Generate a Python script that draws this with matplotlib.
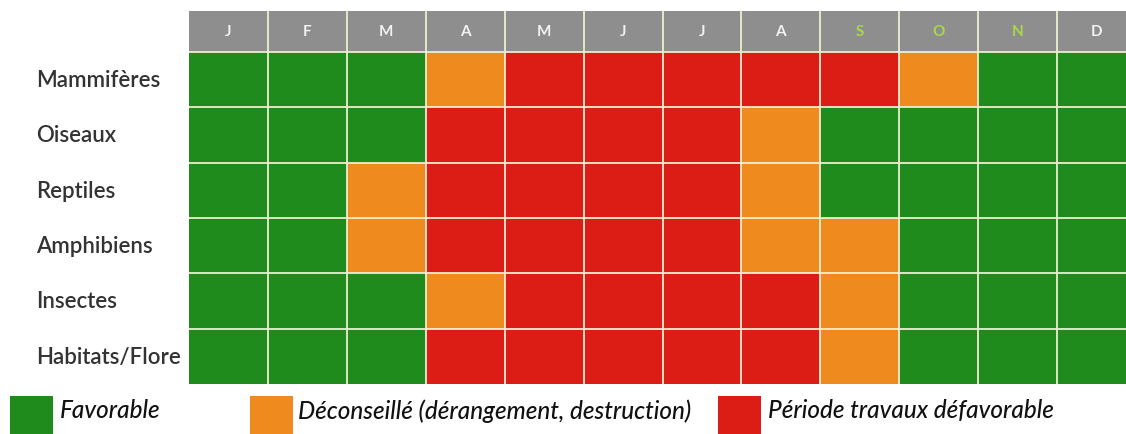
import matplotlib
matplotlib.use("Agg")
import matplotlib.pyplot as plt
import numpy as np
from matplotlib.colors import ListedColormap
from matplotlib.patches import Rectangle
from matplotlib.transforms import blended_transform_factory

# Données
mois = ["J", "F", "M", "A", "M", "J", "J", "A", "S", "O", "N", "D"]
mois_couleurs = ["#f2f2f2"] * 8 + ["#a8d84a", "#a8d84a", "#a8d84a", "#f2f2f2"]
groupes = ["Mammifères", "Oiseaux", "Reptiles", "Amphibiens", "Insectes", "Habitats/Flore"]
# 0 = favorable, 1 = déconseillé, 2 = défavorable
mammiferes = [0, 0, 0, 1, 2, 2, 2, 2, 2, 1, 0, 0]
oiseaux = [0, 0, 0, 2, 2, 2, 2, 1, 0, 0, 0, 0]
reptiles = [0, 0, 1, 2, 2, 2, 2, 1, 0, 0, 0, 0]
amphibiens = [0, 0, 1, 2, 2, 2, 2, 1, 1, 0, 0, 0]
insectes = [0, 0, 0, 1, 2, 2, 2, 2, 1, 0, 0, 0]
habitats_flore = [0, 0, 0, 2, 2, 2, 2, 2, 1, 0, 0, 0]
legende = ["Favorable", "Déconseillé (dérangement, destruction)", "Période travaux défavorable"]

vert, orange, rouge = "#1f8b1c", "#ee8a1e", "#dc1d15"
couleurs = [vert, orange, rouge]

W, H = 1126, 435
fig = plt.figure(figsize=(W / 100, H / 100), dpi=100)

# axes: grille de x=189 à 1136 px, y=12 à 385 px
ax = fig.add_axes([189 / W, 1 - 385 / H, (1136 - 189) / W, (385 - 12) / H])
hauteur_entete = 41 / ((385 - 53) / 6)

codes = np.array([mammiferes, oiseaux, reptiles, amphibiens, insectes, habitats_flore])
x_bords = np.arange(len(mois) + 1)
y_bords = np.arange(len(groupes) + 1)
ax.pcolormesh(x_bords, y_bords, codes, cmap=ListedColormap(couleurs), vmin=-0.5, vmax=2.5)

# en-tête gris
ax.fill_between([0, len(mois)], -hauteur_entete, 0, color="#8e8e8e", lw=0)
for i, (m, c) in enumerate(zip(mois, mois_couleurs)):
    ax.text(i + 0.5, -hauteur_entete / 2, m, ha="center", va="center",
            fontsize=11, fontweight="bold", color=c, family="Lato")

# lignes de grille
for xv in x_bords[1:-1]:
    ax.axvline(xv, color="#eeeed0", lw=1.3)
for yv in y_bords[:-1]:
    ax.axhline(yv, color="#eeeed0", lw=1.3)

ax.set_xlim(0, len(mois))
ax.set_ylim(len(groupes), -hauteur_entete)
ax.axis("off")

# étiquettes des lignes
tr = blended_transform_factory(fig.transFigure, ax.transData)
for j, g in enumerate(groupes):
    ax.text(36 / W, j + 0.5, g, transform=tr, ha="left", va="center",
            fontsize=16, color="#333333", family="Lato", fontweight="semibold")

# légende
carres_x = [10, 250, 718]
textes_x = [60, 298, 768]
for cx, tx, col, lab in zip(carres_x, textes_x, couleurs, legende):
    fig.add_artist(Rectangle((cx / W, 0), 43 / W, 38 / H, transform=fig.transFigure,
                             color=col, lw=0))
    fig.text(tx / W, 1 - 411 / H, lab, ha="left", va="center", fontsize=17.5,
             style="italic", fontweight="medium", color="#111111", family="Lato")

fig.savefig("out.png", dpi=100)
